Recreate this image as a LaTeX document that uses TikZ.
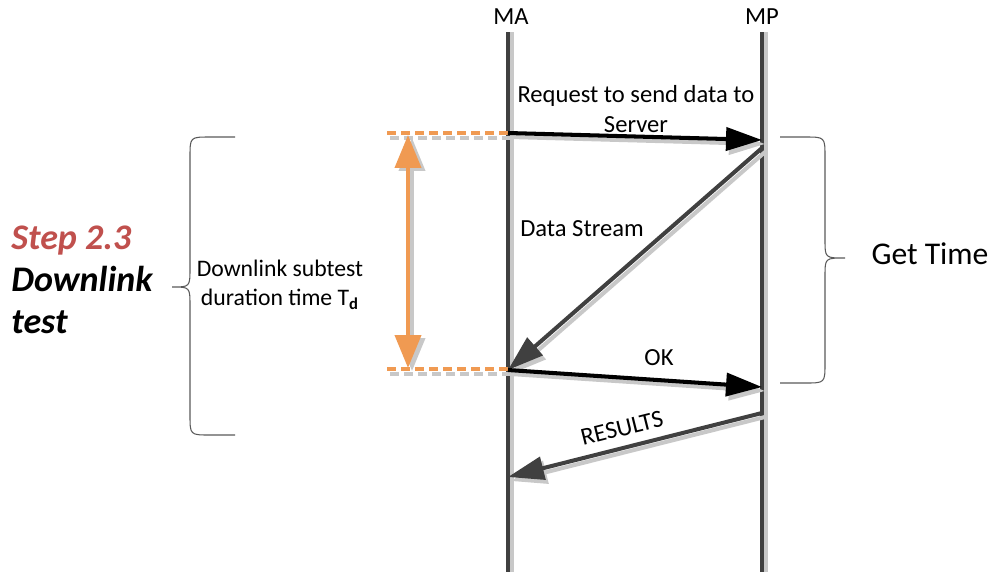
\documentclass[tikz,border=0pt]{standalone}
\usepackage{fontspec}
\setmainfont{Carlito}
\definecolor{lifegray}{RGB}{64,64,64}
\definecolor{shadegray}{RGB}{200,200,200}
\definecolor{accentorange}{RGB}{240,154,82}
\definecolor{steptitle}{RGB}{192,80,77}
\usetikzlibrary{arrows.meta,positioning,calc}

\begin{document}
\begin{tikzpicture}[x=0.02cm,y=-0.02cm,
    lifeline/.style={draw=lifegray, line width=2.3pt},
    lifeshade/.style={draw=shadegray, line width=2pt},
    msg/.style={line width=2.3pt, -{Triangle[length=0.72cm,width=0.46cm]}},
    msgshade/.style={msg, draw=shadegray, transform canvas={shift={(3,4)}}},
    tdline/.style={draw=accentorange, line width=1.8pt, dash pattern=on 5pt off 3pt},
    tdshade/.style={draw=shadegray, line width=1.8pt, dash pattern=on 5pt off 3pt, transform canvas={shift={(3,5)}}},
    tdarrow/.style={line width=2.3pt, {Triangle[length=0.66cm,width=0.52cm]}-{Triangle[length=0.66cm,width=0.52cm]}},
    bracket/.style={draw=black!65, line width=0.6pt},
    label/.style={font=\fontsize{14}{17}\selectfont, inner sep=1pt}]
\useasboundingbox (0,0) rectangle (994,572);

\node[label] (ma) at (511,17) {MA};
\node[label] (mp) at (762,17) {MP};
\coordinate (maTop) at (508,32);
\coordinate (maBot) at (508,572);
\coordinate (mpTop) at (762,32);
\coordinate (mpBot) at (762,572);

\draw[lifeshade] ($(maTop)+(4,0)$) -- ($(maBot)+(4,0)$);
\draw[lifeshade] ($(mpTop)+(4,0)$) -- ($(mpBot)+(4,0)$);
\draw[lifeline] (maTop) -- (maBot);
\draw[lifeline] (mpTop) -- (mpBot);

\coordinate (ma1) at (508,133);
\coordinate (mp1) at (762,140);
\coordinate (mp2) at (762,148);
\coordinate (ma2) at (508,370);
\coordinate (mp3) at (762,387);
\coordinate (mp4) at (762,413);
\coordinate (ma4) at (508,477);

\coordinate (dashA) at (387,133);
\coordinate (dashB) at (387,369);
\coordinate (ma2d) at (508,369);
\draw[tdshade] (dashA) -- (ma1);
\draw[tdshade] (dashB) -- (ma2d);
\draw[tdline] (dashA) -- (ma1);
\draw[tdline] (dashB) -- (ma2d);

\coordinate (tdTop) at (408,135);
\coordinate (tdBot) at (408,368);
\draw[tdarrow, draw=shadegray, transform canvas={shift={(4,3)}}] (tdTop) -- (tdBot);
\draw[tdarrow, draw=accentorange, fill=accentorange] (tdTop) -- (tdBot);

\draw[msgshade] (ma1) -- (mp1);
\draw[msgshade] (mp2) -- (ma2);
\draw[msgshade] (ma2) -- (mp3);
\draw[msgshade] (mp4) -- (ma4);
\draw[msg, draw=black] (ma1) -- (mp1);
\draw[msg, draw=lifegray] (mp2) -- (ma2);
\draw[msg, draw=black] (ma2) -- (mp3);
\draw[msg, draw=lifegray] (mp4) -- (ma4);

\node[label, align=center] (request) at (636,109) {Request to send data to\\Server};
\node[label] (stream) at (582,229) {Data Stream};
\node[label] (ok) at (659,358) {OK};
\node[label, rotate=14] (results) at (622,428) {RESULTS};

\draw[bracket] (780,137) -- (805,137) .. controls (825,137) .. (825,157) -- (825,240)
  .. controls (825,258) .. (845,258) .. controls (825,258) .. (825,276) -- (825,363)
  .. controls (825,383) .. (805,383) -- (780,383);
\node[font=\fontsize{18}{22}\selectfont, inner sep=1pt] (gettime) at (930,254) {Get Time};

\draw[bracket] (235,137) -- (210,137) .. controls (190,137) .. (190,157) -- (190,268)
  .. controls (190,287) .. (172,287) .. controls (190,287) .. (190,306) -- (190,415)
  .. controls (190,435) .. (210,435) -- (235,435);
\node[font=\fontsize{13.5}{16.5}\selectfont, inner sep=1pt, align=center] (duration) at (280,285) {Downlink subtest\\duration time T\textsubscript{\textbf{d}}};

\node[anchor=west, align=left, inner sep=0pt, font=\fontsize{20.5}{24}\selectfont\bfseries\itshape] (step) at (11,280)
  {\textcolor{steptitle}{Step 2.3}\\Downlink\\test};
\end{tikzpicture}
\end{document}
